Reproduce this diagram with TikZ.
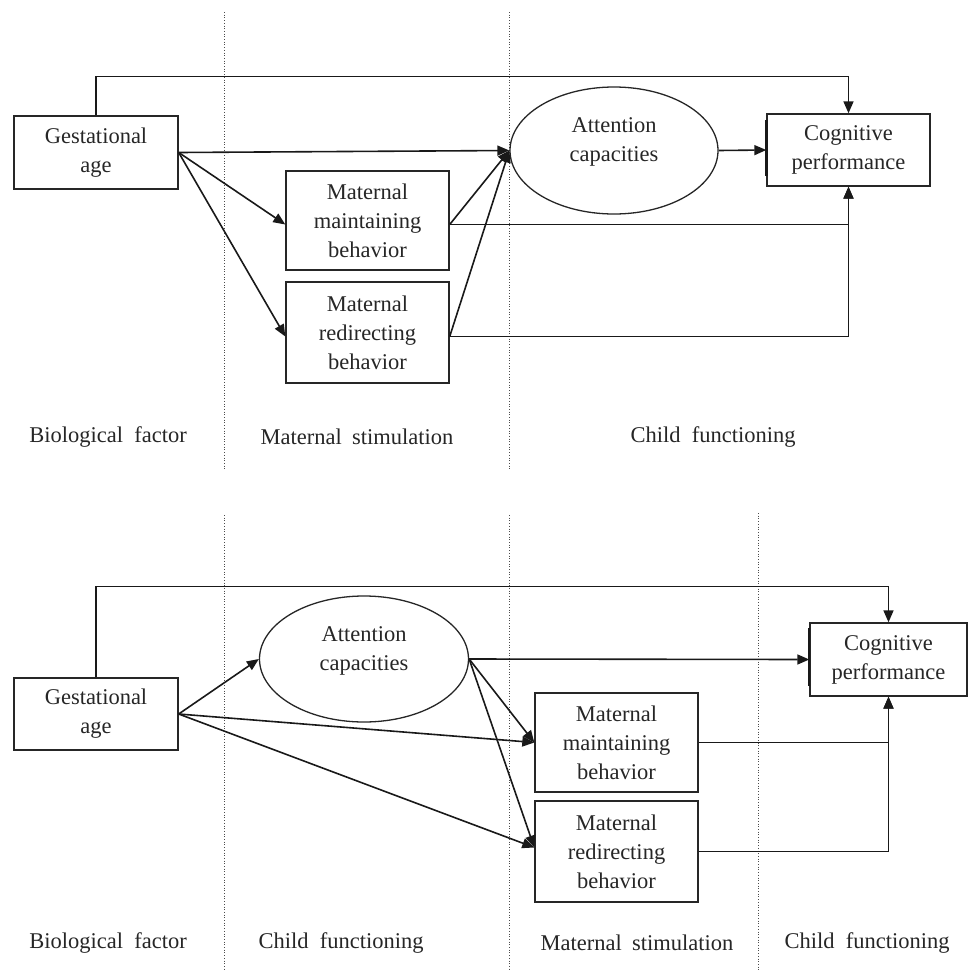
\documentclass[tikz,border=0pt]{standalone}
\usepackage{fontspec}
\setmainfont{Liberation Serif}
\usetikzlibrary{arrows.meta,shapes.geometric}
\begin{document}
\begin{tikzpicture}[x=1pt,y=-1pt,
  txt/.style={font=\fontsize{22.5}{29}\selectfont, text=black!85, align=center, inner sep=0pt},
  box/.style={txt, draw=black!85, line width=1.4pt},
  ell/.style={draw=black!85, line width=1.3pt, ellipse, inner sep=0pt},
  arr/.style={-{Triangle[length=12pt,width=10pt]}, line width=1.6pt, draw=black!90},
  sep/.style={dotted, line width=0.7pt, draw=black!70},
  lab/.style={txt}]
\useasboundingbox (0,0) rectangle (968,970);

% ---------- top diagram ----------
\draw[sep] (224,12) -- (224,470);
\draw[sep] (509,12) -- (509,470);

\node[box, minimum width=164pt, minimum height=73pt] (gest1) at (96,152.5) {Gestational\\age};
\node[box, minimum width=163pt, minimum height=72pt] (cog1) at (848.5,150) {Cognitive\\performance};
\draw[line width=2.6pt, black!90] (cog1.north west) ++(0,7) coordinate (c1a) -- ++(0,56) coordinate (c1b);
\node[ell, minimum width=208pt, minimum height=127pt] (ell1) at (614,150.5) {};
\node[txt] (ell1t) at (614,142) {Attention\\capacities};
\node[box, minimum width=163pt, minimum height=99pt] (maint1) at (367.5,220.5) {Maternal\\maintaining\\behavior};
\node[box, minimum width=163pt, minimum height=101pt] (redir1) at (367.5,332.5) {Maternal\\redirecting\\behavior};

\draw[arr] (gest1.north) -- ++(0,-39) -| (cog1.north);
\draw[arr] (gest1.east) -- (ell1.west);
\draw[arr] (gest1.east) -- ([yshift=-4pt]maint1.west);
\draw[arr] (gest1.east) -- ([yshift=-4pt]redir1.west);
\draw[arr] ([yshift=-4pt]maint1.east) -- (ell1.west);
\draw[arr] ([yshift=-4pt]redir1.east) -- (ell1.west);
\draw[arr] (ell1.east) -- (cog1.west);
\draw[arr] ([yshift=-4pt]maint1.east) -| (cog1.south);
\draw[arr] ([yshift=-4pt]redir1.east) -| (cog1.south);

\node[lab] (l1a) at (108,437) {Biological\hspace{0.25em} factor};
\node[lab] (l1b) at (357,437) {Maternal\hspace{0.2em} stimulation};
\node[lab] (l1c) at (713,437) {Child\hspace{0.25em} functioning};

% ---------- bottom diagram ----------
\draw[sep] (224,515) -- (224,970);
\draw[sep] (509,515) -- (509,970);
\draw[sep] (758,513) -- (758,970);

\node[box, minimum width=164pt, minimum height=72pt] (gest2) at (96,714) {Gestational\\age};
\node[box, minimum width=157pt, minimum height=73pt] (cog2) at (888.5,659.5) {Cognitive\\performance};
\draw[line width=2.2pt, black!90] (cog2.north west) ++(0,6) coordinate (c2a) -- ++(0,58) coordinate (c2b);
\node[ell, minimum width=209pt, minimum height=126pt] (ell2) at (364,659) {};
\node[txt] (ell2t) at (364,651) {Attention\\capacities};
\node[box, minimum width=163pt, minimum height=99pt] (maint2) at (616.5,742.5) {Maternal\\maintaining\\behavior};
\node[box, minimum width=163pt, minimum height=101pt] (redir2) at (616.5,851.5) {Maternal\\redirecting\\behavior};

\draw[arr] (gest2.north) -- ++(0,-91) -| (cog2.north);
\draw[arr] (gest2.east) -- (ell2.west);
\draw[arr] (gest2.east) -- (maint2.west);
\draw[arr] (gest2.east) -- ([yshift=4pt]redir2.west);
\draw[arr] (ell2.east) -- (cog2.west);
\draw[arr] (ell2.east) -- (maint2.west);
\draw[arr] (ell2.east) -- ([yshift=4pt]redir2.west);
\draw[arr] (maint2.east) -| (cog2.south);
\draw[arr] (redir2.east) -| (cog2.south);

\node[lab] (l2a) at (108,943) {Biological\hspace{0.25em} factor};
\node[lab] (l2b) at (341,943) {Child\hspace{0.25em} functioning};
\node[lab] (l2c) at (637,943) {Maternal\hspace{0.2em} stimulation};
\node[lab] (l2d) at (867,943) {Child\hspace{0.25em} functioning};
\end{tikzpicture}
\end{document}
